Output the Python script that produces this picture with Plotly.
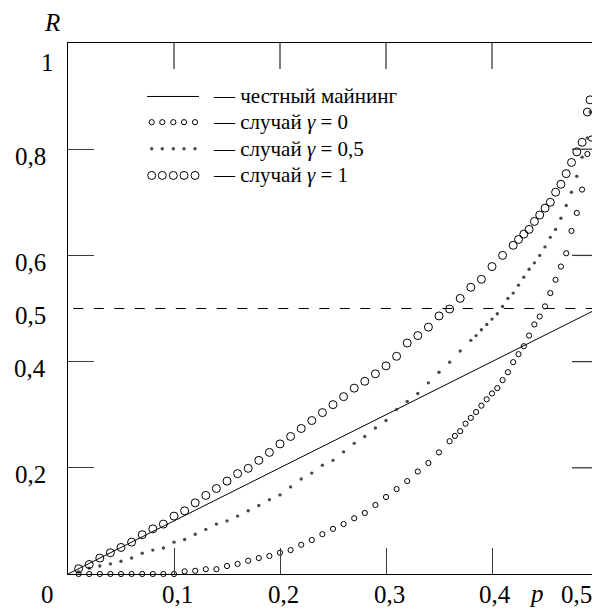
import plotly.graph_objects as go

# ---------------------------------------------------------------- data
honest_p = [0.0, 0.5]
honest_R = [0.0, 0.5]

p_g0 = [0.01, 0.02, 0.03, 0.04, 0.05, 0.06, 0.07, 0.08, 0.09, 0.10,
        0.11, 0.12, 0.13, 0.14, 0.15, 0.16, 0.17, 0.18, 0.19, 0.20,
        0.21, 0.22, 0.23, 0.24, 0.25, 0.26, 0.27, 0.28, 0.29, 0.30,
        0.31, 0.32, 0.33, 0.34, 0.35, 0.36, 0.365, 0.37, 0.375, 0.38,
        0.385, 0.39, 0.395, 0.40, 0.405, 0.41, 0.415, 0.42, 0.425, 0.43,
        0.435, 0.44, 0.445, 0.45, 0.455, 0.46, 0.465, 0.47, 0.475, 0.48,
        0.485, 0.49, 0.4935]
R_g0 = [0, 0, 0, 0, 0, 0, 0, 0, 0, 0,
        0.005, 0.006, 0.009, 0.009, 0.015, 0.019, 0.025, 0.030, 0.034, 0.040,
        0.045, 0.055, 0.064, 0.075, 0.085, 0.094, 0.105, 0.115, 0.130, 0.145,
        0.160, 0.175, 0.193, 0.209, 0.229, 0.250, 0.260, 0.269, 0.283, 0.294,
        0.305, 0.317, 0.329, 0.340, 0.350, 0.365, 0.380, 0.399, 0.414, 0.429,
        0.449, 0.470, 0.485, 0.504, 0.529, 0.554, 0.579, 0.604, 0.646, 0.680,
        0.724, 0.791, 0.820]

p_g05 = [0.01, 0.02, 0.03, 0.04, 0.05, 0.06, 0.07, 0.08, 0.09, 0.10,
         0.11, 0.12, 0.13, 0.14, 0.15, 0.16, 0.17, 0.18, 0.19, 0.20,
         0.21, 0.22, 0.23, 0.24, 0.25, 0.26, 0.27, 0.28, 0.29, 0.30,
         0.31, 0.32, 0.33, 0.34, 0.35, 0.36, 0.37, 0.38, 0.385, 0.39,
         0.395, 0.40, 0.405, 0.41, 0.415, 0.42, 0.425, 0.43, 0.435, 0.44,
         0.445, 0.45, 0.455, 0.46, 0.465, 0.47, 0.475, 0.48, 0.485, 0.49,
         0.4925]
R_g05 = [0.004, 0.011, 0.015, 0.019, 0.024, 0.030, 0.039, 0.045, 0.049, 0.060,
         0.065, 0.075, 0.084, 0.094, 0.100, 0.109, 0.119, 0.129, 0.140, 0.149,
         0.164, 0.179, 0.190, 0.205, 0.214, 0.230, 0.246, 0.259, 0.275, 0.289,
         0.310, 0.325, 0.340, 0.360, 0.380, 0.399, 0.420, 0.440, 0.449, 0.460,
         0.470, 0.480, 0.490, 0.504, 0.519, 0.529, 0.544, 0.559, 0.574, 0.586,
         0.600, 0.616, 0.634, 0.649, 0.670, 0.694, 0.719, 0.749, 0.785, 0.821,
         0.870]

p_g1 = [0.01, 0.02, 0.03, 0.04, 0.05, 0.06, 0.07, 0.08, 0.09, 0.10,
        0.11, 0.12, 0.13, 0.14, 0.15, 0.16, 0.17, 0.18, 0.19, 0.20,
        0.21, 0.22, 0.23, 0.24, 0.25, 0.26, 0.27, 0.28, 0.29, 0.30,
        0.31, 0.32, 0.33, 0.34, 0.35, 0.36, 0.37, 0.38, 0.39, 0.40,
        0.41, 0.42, 0.425, 0.43, 0.435, 0.44, 0.445, 0.45, 0.455, 0.46,
        0.465, 0.47, 0.475, 0.48, 0.485, 0.49, 0.4925, 0.495, 0.497]
R_g1 = [0.010, 0.018, 0.030, 0.040, 0.050, 0.060, 0.074, 0.085, 0.094, 0.109,
        0.119, 0.134, 0.148, 0.161, 0.175, 0.189, 0.199, 0.214, 0.229, 0.245,
        0.259, 0.274, 0.289, 0.304, 0.319, 0.334, 0.350, 0.363, 0.377, 0.392,
        0.410, 0.435, 0.449, 0.465, 0.486, 0.499, 0.519, 0.540, 0.555, 0.579,
        0.600, 0.619, 0.630, 0.640, 0.649, 0.664, 0.676, 0.689, 0.700, 0.719,
        0.734, 0.754, 0.775, 0.795, 0.813, 0.870, 0.893, 0.919, 0.960]

x_ticks = [0.1, 0.2, 0.3, 0.4]
x_tick_text = ["0,1", "0,2", "0,3", "0,4"]
y_ticks = [0.2, 0.4, 0.6, 0.8]
y_tick_text = ["0,2", "0,4", "0,6", "0,8"]
threshold = 0.5

legend_labels = ["— честный майнинг",
                 "— случай <i>γ</i> = 0",
                 "— случай <i>γ</i> = 0,5",
                 "— случай <i>γ</i> = 1"]

# ---------------------------------------------------------------- geometry
W, H = 592, 609
L, T = 68, 42.5          # plot-area left / top in px
PX_PER_P = 1060.0        # px per unit of p
PX_PER_R = 531.2         # px per unit of R
B = H - T - PX_PER_R
x_max = (W - L) / PX_PER_P
Y0 = T + PX_PER_R        # pixel row of R = 0

FONT = "Liberation Serif, Times New Roman, DejaVu Serif, serif"
INK = "black"
TICK = "#3a3a3a"

styles = {
    "g0": dict(symbol="circle-open", size=5.2, color=INK, line=dict(width=1, color=INK)),
    "g05": dict(symbol="circle", size=3.4, color="#4a4a4a", line=dict(width=0)),
    "g1": dict(symbol="circle-open", size=8, color=INK, line=dict(width=1, color=INK)),
}

fig = go.Figure()

fig.add_trace(go.Scatter(x=honest_p, y=honest_R, mode="lines",
                         line=dict(color=INK, width=1), cliponaxis=False,
                         hoverinfo="skip"))
fig.add_trace(go.Scatter(x=p_g0, y=R_g0, mode="markers", marker=styles["g0"],
                         cliponaxis=False))
fig.add_trace(go.Scatter(x=p_g05, y=R_g05, mode="markers", marker=styles["g05"],
                         cliponaxis=False))
fig.add_trace(go.Scatter(x=p_g1, y=R_g1, mode="markers", marker=styles["g1"],
                         cliponaxis=False))

# threshold line R = 0.5
fig.add_shape(type="line", xref="x", yref="y", x0=0.005, x1=0.5,
              y0=threshold, y1=threshold,
              line=dict(color=INK, width=1, dash="10px,10.5px"))

# ticks on the right-hand frame (frame itself lies at p = 0.5)
for v in y_ticks:
    fig.add_shape(type="line", xref="x", yref="y",
                  x0=0.5 - 26 / PX_PER_P, x1=0.5, y0=v, y1=v,
                  line=dict(color=TICK, width=1.3))

# top frame ticks
for v in x_ticks:
    fig.add_shape(type="line", xref="x", yref="y", x0=v, x1=v,
                  y0=1 - 26 / PX_PER_R, y1=1, line=dict(color=TICK, width=1.3))

# ---------------------------------------------------------------- legend (pixel overlay axes)
sample_x = [151.7, 162.3, 173.3, 184.0, 195.0]
rows_y = [96.0, 121.7, 148.3, 175.0]
fig.add_trace(go.Scatter(x=[147, 199], y=[rows_y[0], rows_y[0]], mode="lines",
                         line=dict(color=INK, width=1), xaxis="x2", yaxis="y2",
                         hoverinfo="skip"))
for key, ry in zip(["g0", "g05", "g1"], rows_y[1:]):
    fig.add_trace(go.Scatter(x=sample_x, y=[ry] * len(sample_x), mode="markers",
                             marker=styles[key], xaxis="x2", yaxis="y2",
                             cliponaxis=False, hoverinfo="skip"))
for text, ry in zip(legend_labels, rows_y):
    fig.add_annotation(x=211, y=ry, xref="x2", yref="y2", text=text,
                       showarrow=False, xanchor="left", yanchor="middle",
                       font=dict(family=FONT, size=21, color=INK))

# ---------------------------------------------------------------- tick labels
lab = dict(family=FONT, size=25, color=INK)
for v, t in zip(x_ticks, x_tick_text):
    fig.add_annotation(x=v, y=0, xref="x", yref="y", text=t, showarrow=False,
                       xanchor="center", yanchor="middle", xshift=3, yshift=-20,
                       font=lab)
for v, t in zip(y_ticks + [threshold], y_tick_text + ["0,5"]):
    fig.add_annotation(x=0, y=v, xref="x", yref="y", text=t, showarrow=False,
                       xanchor="right", yanchor="middle", xshift=-20, yshift=-7,
                       font=lab)
fig.add_annotation(x=0, y=0, xref="x", yref="y", text="0", showarrow=False,
                   xanchor="center", yanchor="middle", xshift=-20.5, yshift=-20,
                   font=lab)
fig.add_annotation(x=0, y=1, xref="x", yref="y", text="1", showarrow=False,
                   xanchor="center", yanchor="middle", xshift=-20.5, yshift=-19,
                   font=lab)
# labels near the clipped right edge, anchored at in-range pixel positions
fig.add_annotation(x=576, y=Y0, xref="x2", yref="y2", text="0,5", showarrow=False,
                   xanchor="center", yanchor="middle", yshift=-20, font=lab)
fig.add_annotation(x=536, y=Y0, xref="x2", yref="y2", text="<i>p</i>",
                   showarrow=False, xanchor="center", yanchor="middle",
                   yshift=-19.5, font=lab)
fig.add_annotation(x=L, y=T, xref="x2", yref="y2", text="<i>R</i>",
                   showarrow=False, xanchor="center", yanchor="middle",
                   xshift=-16, yshift=21, font=lab)

fig.update_layout(
    width=W, height=H,
    margin=dict(l=L, r=0, t=T, b=B, pad=0),
    plot_bgcolor="white", paper_bgcolor="white",
    showlegend=False,
    xaxis=dict(range=[0, x_max], showgrid=False, zeroline=False,
               showline=True, linecolor=INK, linewidth=1.3, mirror=True,
               tickmode="array", tickvals=x_ticks, ticks="inside", ticklen=26,
               tickwidth=1.3, tickcolor=TICK, showticklabels=False),
    yaxis=dict(range=[0, 1], showgrid=False, zeroline=False,
               showline=True, linecolor=INK, linewidth=1.3, mirror=False,
               tickmode="array", tickvals=y_ticks, ticks="inside", ticklen=26,
               tickwidth=1.3, tickcolor=TICK, showticklabels=False),
    xaxis2=dict(range=[L, W], overlaying="x", visible=False),
    yaxis2=dict(range=[Y0, T], overlaying="y", visible=False),
)

fig.write_html("out.html")
